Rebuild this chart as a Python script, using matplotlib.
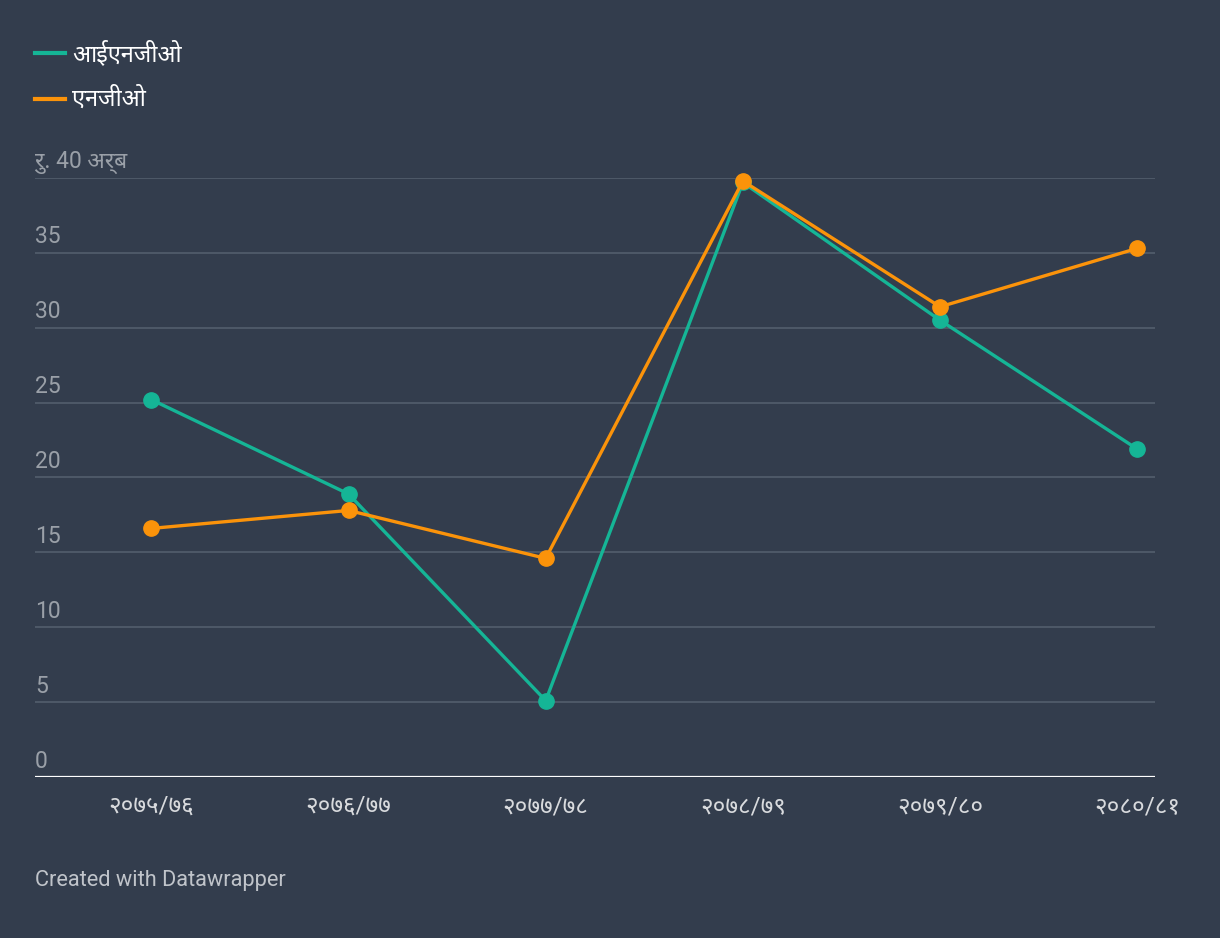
import matplotlib.pyplot as plt
import numpy as np

plt.rcParams['font.family'] = ['Roboto', 'Noto Sans', 'DejaVu Sans']

years = ["२०७५/७६", "२०७६/७७", "२०७७/७८", "२०७८/७९", "२०७९/८०", "२०८०/८१"]
ingo = [25.2, 18.9, 5.1, 39.7, 30.5, 21.9]
ngo = [16.6, 17.8, 14.6, 39.8, 31.4, 35.3]
yticks = [0, 5, 10, 15, 20, 25, 30, 35, 40]
ytick_labels = ["0", "5", "10", "15", "20", "25", "30", "35", "रु. 40 अर्ब"]
series_names = ["आईएनजीओ", "एनजीओ"]

bg = "#333d4d"
teal = "#15b596"
orange = "#fb930a"

fig = plt.figure(figsize=(12.2, 9.38), dpi=100, facecolor=bg)
ax = fig.add_axes([35/1220, 1-777/938, 1120/1220, 599/938])
ax.set_facecolor(bg)

x = np.arange(len(years))
ax.plot(x, ingo, color=teal, lw=2.4, marker="o", ms=11, clip_on=False, zorder=3)
ax.plot(x, ngo, color=orange, lw=2.4, marker="o", ms=11, clip_on=False, zorder=4)

ax.set_xlim(-0.59, 5.09)
ax.set_ylim(0, 40)

# gridlines and in-plot y labels
for v in yticks[1:]:
    ax.axhline(v, color="#505b6a", lw=1.3, zorder=1)
for v, lab in zip(yticks, ytick_labels):
    ax.text(0, v + 0.3, lab, transform=ax.get_yaxis_transform(), ha="left", va="bottom",
            color="#9aa0a8", fontsize=16.5)

ax.axhline(0, color="white", lw=1.6, zorder=2)

ax.set_xticks(x)
ax.set_xticklabels(years, color="#d8dadd", fontsize=17.5)
ax.tick_params(axis="x", length=0, pad=13)
ax.set_yticks([])
for s in ax.spines.values():
    s.set_visible(False)

# legend
for i, (name, c) in enumerate(zip(series_names, [teal, orange])):
    yy = 1 - (53 + 46*i)/938
    fig.add_artist(plt.Line2D([35/1220, 65/1220], [yy, yy], color=c, lw=3))
    fig.text(72/1220, yy, name, color="white", fontsize=17, va="center", ha="left")

fig.text(35/1220, 1-880/938, "Created with Datawrapper", color="#c0c4ca",
         fontsize=15.7, va="center", ha="left")

fig.savefig("out.png", dpi=100, facecolor=bg)
